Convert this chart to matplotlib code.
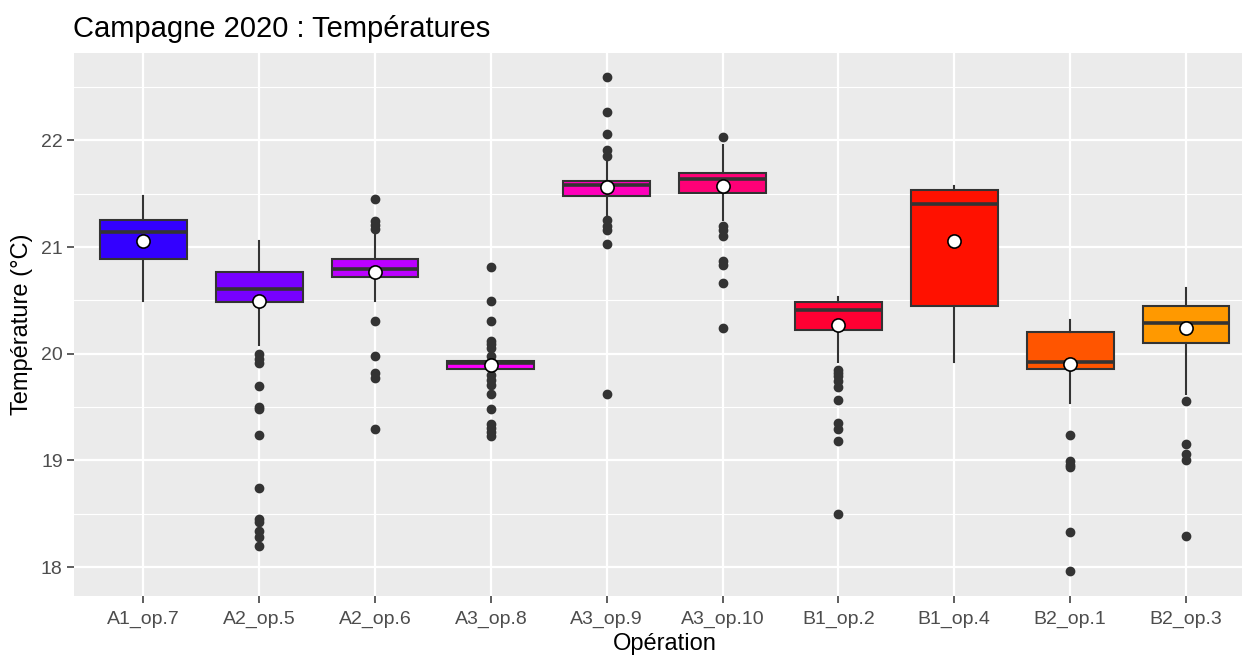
import numpy as np
import matplotlib
matplotlib.use("Agg")
import matplotlib.pyplot as plt
from matplotlib.ticker import MultipleLocator

plt.rcParams['font.family'] = ['Liberation Sans', 'DejaVu Sans']

operations = ['A1_op.7', 'A2_op.5', 'A2_op.6', 'A3_op.8', 'A3_op.9',
              'A3_op.10', 'B1_op.2', 'B1_op.4', 'B2_op.1', 'B2_op.3']
fills = ['#3300FF', '#7700FF', '#BB00FF', '#FF00FF', '#FF00BB',
         '#FF0077', '#FF0033', '#FF1100', '#FF5500', '#FF9900']

# box statistics per operation (°C)
whislo = [20.49, 20.08, 20.49, 19.86, 21.28, 21.25, 19.92, 19.92, 19.54, 19.62]
q1     = [20.89, 20.48, 20.72, 19.86, 21.48, 21.51, 20.22, 20.45, 19.86, 20.10]
med    = [21.14, 20.61, 20.79, 19.91, 21.58, 21.64, 20.41, 21.40, 19.92, 20.29]
q3     = [21.25, 20.77, 20.89, 19.93, 21.62, 21.69, 20.48, 21.53, 20.20, 20.45]
whishi = [21.48, 21.06, 21.12, 19.93, 21.80, 21.96, 20.53, 21.57, 20.32, 20.62]
means  = [21.06, 20.49, 20.77, 19.89, 21.56, 21.57, 20.27, 21.06, 19.90, 20.24]

outliers = [
    [],
    [20.00, 19.95, 19.91, 19.70, 19.50, 19.48, 19.24, 18.74,
     18.45, 18.42, 18.34, 18.28, 18.20],
    [21.45, 21.24, 21.21, 21.17, 20.31, 19.98, 19.82, 19.77, 19.29],
    [20.81, 20.49, 20.31, 20.12, 20.09, 20.05, 19.98, 19.80, 19.75,
     19.71, 19.62, 19.48, 19.34, 19.30, 19.27, 19.23],
    [22.59, 22.27, 22.06, 21.91, 21.85, 21.25, 21.20, 21.16, 21.03, 19.62],
    [22.03, 21.20, 21.16, 21.10, 20.87, 20.83, 20.66, 20.24],
    [19.85, 19.82, 19.79, 19.74, 19.69, 19.57, 19.35, 19.29, 19.18, 18.50],
    [],
    [19.24, 18.99, 18.96, 18.94, 18.33, 17.96],
    [19.56, 19.15, 19.06, 19.00, 18.29],
]

stats = []
for i, name in enumerate(operations):
    stats.append(dict(label=name, whislo=whislo[i], q1=q1[i], med=med[i],
                      q3=q3[i], whishi=whishi[i], fliers=outliers[i]))

W, H = 1242, 655
fig = plt.figure(figsize=(W / 100, H / 100), dpi=100, facecolor='white')
# panel runs a little past the right border of the image
left, right, top, bottom = 73.8, 1255.5, 52.7, 596
ax = fig.add_axes([left / W, 1 - bottom / H, (right - left) / W, (bottom - top) / H])
ax.set_facecolor('#EBEBEB')

pos = np.arange(1, len(operations) + 1)
edge = '#333333'
bp = ax.bxp(stats, positions=pos, widths=0.75, patch_artist=True,
            showfliers=True,
            boxprops=dict(edgecolor=edge, linewidth=1.5),
            medianprops=dict(color=edge, linewidth=2.6),
            whiskerprops=dict(color=edge, linewidth=1.5),
            capprops=dict(linewidth=0),
            flierprops=dict(marker='o', markerfacecolor=edge,
                            markeredgecolor=edge, markersize=6.0,
                            linestyle='none'),
            zorder=3)
for patch, c in zip(bp['boxes'], fills):
    patch.set_facecolor(c)

ax.plot(pos, means, linestyle='none', marker='o', markersize=9.5,
        markerfacecolor='white', markeredgecolor='black',
        markeredgewidth=1.2, zorder=5)

# ggplot-like limits (5% expansion on y, 0.6 on discrete x)
allv = np.concatenate([whislo, whishi] + [np.array(o) for o in outliers if o])
lo, hi = allv.min(), allv.max()
span = hi - lo
ax.set_ylim(lo - 0.05 * span, hi + 0.05 * span)
ax.set_xlim(0.4, len(operations) + 0.6)

ax.yaxis.set_major_locator(MultipleLocator(1))
ax.yaxis.set_minor_locator(MultipleLocator(0.5))
ax.set_xticks(pos)
ax.set_xticklabels(operations)
ax.grid(which='major', color='white', linewidth=1.6, zorder=0)
ax.grid(which='minor', axis='y', color='white', linewidth=0.8, zorder=0)
ax.set_axisbelow(True)
for s in ax.spines.values():
    s.set_visible(False)

ax.tick_params(axis='both', which='major', length=5, width=1.1,
               color='#333333', labelcolor='#4D4D4D', labelsize=14)
ax.tick_params(axis='x', which='major', pad=6)
ax.tick_params(axis='y', which='major', pad=3)
ax.tick_params(axis='both', which='minor', length=0)

ax.set_xlabel('Opération', fontsize=17, color='black', labelpad=3)
ax.set_ylabel('Température (°C)', fontsize=17, color='black', labelpad=6)
fig.text(73 / W, 1 - 37 / H, 'Campagne 2020 : Températures',
         fontsize=21, ha='left', va='baseline', color='black')

fig.savefig('out.png', dpi=100)
